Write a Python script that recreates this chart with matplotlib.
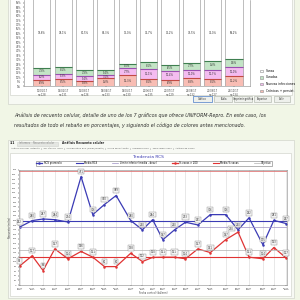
import pandas as pd
import matplotlib
matplotlib.use("Agg")
import matplotlib.pyplot as plt
from matplotlib import font_manager
from matplotlib.patches import Rectangle

# --- data: stacked bar chart (percentages per control) ---
controls = ["10/01/17\nn=128", "14/02/17\nn=131", "16/03/17\nn=126", "18/04/17\nn=133",
            "19/05/17\nn=130", "20/06/17\nn=135", "21/07/17\nn=129", "22/08/17\nn=132",
            "21/09/17\nn=127", "24/10/17\nn=134"]
cronicas = [6.9, 8.5, 5.8, 9.2, 12.3, 8.1, 6.9, 8.8, 8.1, 11.2]
nuevas = [6.2, 5.3, 5.4, 3.1, 7.7, 11.1, 10.4, 10.0, 10.7, 10.0]
curadas = [7.3, 8.1, 7.3, 5.4, 5.0, 8.1, 6.5, 7.7, 9.2, 9.6]
sanas = [79.6, 78.1, 81.5, 82.3, 75.0, 72.7, 76.2, 73.5, 72.0, 69.2]
bar_legend = ["Sanas", "Curadas", "Nuevas infecciones", "Crónicas + persist."]

# --- data: RCS trend ---
dates = ["10/01/2017", "27/01/2017", "11/02/2017", "27/02/2017", "17/03/2017", "04/04/2017",
         "20/04/2017", "06/05/2017", "22/05/2017", "11/06/2017", "27/06/2017", "11/07/2017",
         "25/07/2017", "10/08/2017", "25/08/2017", "11/09/2017", "28/09/2017", "19/10/2017",
         "05/11/2017", "20/11/2017", "09/12/2017", "24/12/2017", "10/01/2018"]
rcs = [252, 280, 287, 284, 274, 471, 306, 350, 389, 280, 240, 284,
       197, 240, 273, 261, 306, 306, 240, 292, 175, 281, 267]
pct = [83, 127, 63, 157, 114, 146, 121, 80, 80, 138, 102, 120,
       121, 121, 114, 157, 141, 197, 230, 121, 114, 163, 117]
rcs_mean, rcs_low = 278, 251
pct_mean, pct_goal, pct_max = 123, 152, 495

bg = "#f1f6e6"
fig = plt.figure(figsize=(3, 3), dpi=100, facecolor=bg)


def box(x0, y0, x1, y1, fc, ec="#c9cdc4", lw=0.4, z=-1):
    fig.patches.append(Rectangle((x0 / 300, 1 - y1 / 300), (x1 - x0) / 300, (y1 - y0) / 300,
                                 transform=fig.transFigure, fc=fc, ec=ec, lw=lw, zorder=z))


def txt(x, y, s, **kw):
    fig.text(x / 300, 1 - y / 300, s, **kw)


# panels
box(8, -2, 294, 104, "#f7f9f4")
box(10, -2, 292, 95, "#ffffff")
box(8, 140, 294, 298, "#f7f9f4")
box(10, 153, 291, 296, "#ffffff")

# ---------- stacked bars ----------
ax = fig.add_axes([24 / 300, 1 - 86 / 300, 226 / 300, 86 / 300])
x = range(len(controls))
segs = [(cronicas, "#f8bdb4", "#c24a44"), (nuevas, "#f4bcf0", "#9a4fb0"),
        (curadas, "#c3e4c6", "#3f7f50"), (sanas, "#ffffff", "#9a9a9a")]
bottom = [0] * len(controls)
handles = []
for vals, fc, lc in segs:
    b = ax.bar(x, vals, bottom=bottom, width=0.8, color=fc, edgecolor="#8c8c8c", lw=0.4)
    handles.append(b)
    tops = [bt + v for bt, v in zip(bottom, vals)]
    ax.hlines(tops, [i - 0.4 for i in x], [i + 0.4 for i in x], color=lc, lw=0.8)
    for i, v in enumerate(vals):
        ax.text(i, bottom[i] + v / 2 if v < 50 else 60, f"{v:.1f}%".replace(".", ","),
                ha="center", va="center", fontsize=1.8, color="#333333")
    bottom = tops
ax.set_xlim(-0.84, 9.75)
ax.set_ylim(0, 98)
ax.set_yticks(range(0, 100, 5))
ax.set_yticklabels([f"{v}%" for v in range(0, 100, 5)], fontsize=1.8, color="#444444")
ax.set_xticks(list(x))
ax.set_xticklabels(controls, fontsize=1.8, color="#444444")
ax.tick_params(length=1, width=0.3, pad=1)
for s in ax.spines.values():
    s.set_linewidth(0.4)
    s.set_color("#888888")
ax.spines["top"].set_visible(False)
fig.legend([handles[3], handles[2], handles[1], handles[0]], bar_legend,
           loc="upper left", bbox_to_anchor=(257 / 300, 1 - 66 / 300), fontsize=2.2,
           frameon=False, handlelength=1.2, handleheight=0.8, labelspacing=0.9)

# buttons
for (x0, x1), lab, ec in zip([(193, 212), (214, 232), (234, 252), (254, 271), (274, 290)],
                             ["Gráfico", "Tabla", "Imprimir gráfica", "Exportar", "Salir"],
                             ["#4a7cc8", "#b8bcb4", "#b8bcb4", "#b8bcb4", "#b8bcb4"]):
    box(x0, 96, x1, 102, "#eef0ec", ec=ec, lw=0.5, z=1)
    txt((x0 + x1) / 2, 99, lab, fontsize=1.8, ha="center", va="center", color="#333333")

# ---------- caption ----------
narrow = font_manager.findfont("Liberation Sans Narrow", fallback_to_default=True)
if "Narrow" in narrow:
    cap_font, cap_size = ["Liberation Sans Narrow", "DejaVu Sans"], 4.6
else:
    cap_font, cap_size = ["DejaVu Sans"], 3.45
txt(14, 115, "Análisis de recuento celular, detalle de uno de los 7 gráficos que ofrece "
    "UNIFORM-Repro. En este caso, los", fontsize=cap_size, style="italic", family=cap_font,
    color="#2e2e2e", va="center")
txt(14, 125, "resultados de todo el rebaño en porcentajes, y siguiendo el código de colores "
    "antes mencionado.", fontsize=cap_size, style="italic", family=cap_font,
    color="#2e2e2e", va="center")

# ---------- window header ----------
txt(10, 143.5, "3.1", fontsize=2.2, weight="bold", va="center", color="#222222")
box(17, 141.5, 58, 145.5, "#e4e6e2", ec="#d0d2ce", z=1)
txt(19, 143.5, "Informes    Recuento celular", fontsize=1.8, va="center", color="#888888")
txt(62, 143.5, "Análisis Recuento celular", fontsize=2.2, weight="bold", va="center",
    color="#222222")
tabs = ("Análisis RCS por lactación  |  Por días en leche  |  Comparativa RCS (vacas/rebaño)  |"
        "  Curva de lactación  |  Tendencia RCS  |  Tabla infecciones  |  Análisis de vacas")
txt(11, 149, tabs, fontsize=1.6, va="center", color="#555555")
txt(148, 157, "Tendencia RCS", fontsize=3.2, ha="center", va="center", color="#3a3ab0")

# ---------- trend chart ----------
d = pd.to_datetime(dates, dayfirst=True)
ax2 = fig.add_axes([19 / 300, 1 - 285 / 300, 268 / 300, 115 / 300])
blue, red = "#3b3bb5", "#e03434"
l1, = ax2.plot(d, rcs, color=blue, lw=0.9, marker="o", ms=0.8)
l2 = ax2.axhline(rcs_mean, color=blue, lw=0.8)
l3 = ax2.axhline(rcs_low, color="#9c90c4", lw=0.5)
l4, = ax2.plot(d, pct, color=red, lw=0.9, marker="o", ms=0.8)
l5 = ax2.axhline(pct_mean, color=red, lw=0.8)
l6 = ax2.axhline(pct_goal, color="#b0b0b0", lw=0.5)
ax2.axhline(pct_max, color="#e07a7a", lw=0.6)
lab_box = dict(boxstyle="square,pad=0.3", fc="#f4f4f4", ec="#888888", lw=0.3)
for xi, a, b in zip(d, rcs, pct):
    ax2.annotate(str(a), (xi, a), xytext=(0, 2.2), textcoords="offset points",
                 ha="center", va="bottom", fontsize=1.8, color="#333333", bbox=lab_box)
    # red label goes to the left when it would hit the blue one
    off, ha = ((-3, 1), "right") if abs(a - b) < 30 else ((0, 2.2), "center")
    ax2.annotate(str(b), (xi, b), xytext=off, textcoords="offset points",
                 ha=ha, va="bottom", fontsize=1.8, color="#333333", bbox=lab_box)
ax2.set_ylim(0, 500)
ax2.set_xlim(d[0] - pd.Timedelta(days=1), d[-1] + pd.Timedelta(days=1))
ax2.set_yticks(range(0, 501, 20))
ax2.tick_params(axis="y", labelsize=1.6, length=1, width=0.3, pad=0.8, labelcolor="#444444")
ax2.set_xticks(d)
ax2.set_xticklabels([f"{t:%d/%m}\n{t:%Y}" for t in d], fontsize=1.6, color="#444444")
ax2.tick_params(axis="x", length=1, width=0.3, pad=0.8)
ax2.grid(axis="x", color="#d6d6d6", lw=0.4)
ax2.set_xlabel("Fecha control (dd/mm)", fontsize=1.8, labelpad=0.5, color="#444444")
ax2.set_ylabel("Recuento (miles)", fontsize=1.8, labelpad=0.5, color="#444444")
for s in ax2.spines.values():
    s.set_linewidth(0.4)
    s.set_color("#888888")
ax2.legend([l1, l2, l3, l4, l5, l6],
           ["RCS promedio", "Media RCS", "Límite inferior (media - desv.)",
            "% vacas > 200", "Media % vacas", "Objetivo"],
           loc="center", bbox_to_anchor=(154 / 300, 1 - 163 / 300),
           bbox_transform=fig.transFigure, ncol=6, fontsize=1.8, frameon=True,
           fancybox=False, edgecolor="#555555", handlelength=2.5, columnspacing=6,
           borderpad=0.2, handletextpad=0.5).get_frame().set_linewidth(0.4)

fig.savefig("out.png", dpi=100, facecolor=bg)
